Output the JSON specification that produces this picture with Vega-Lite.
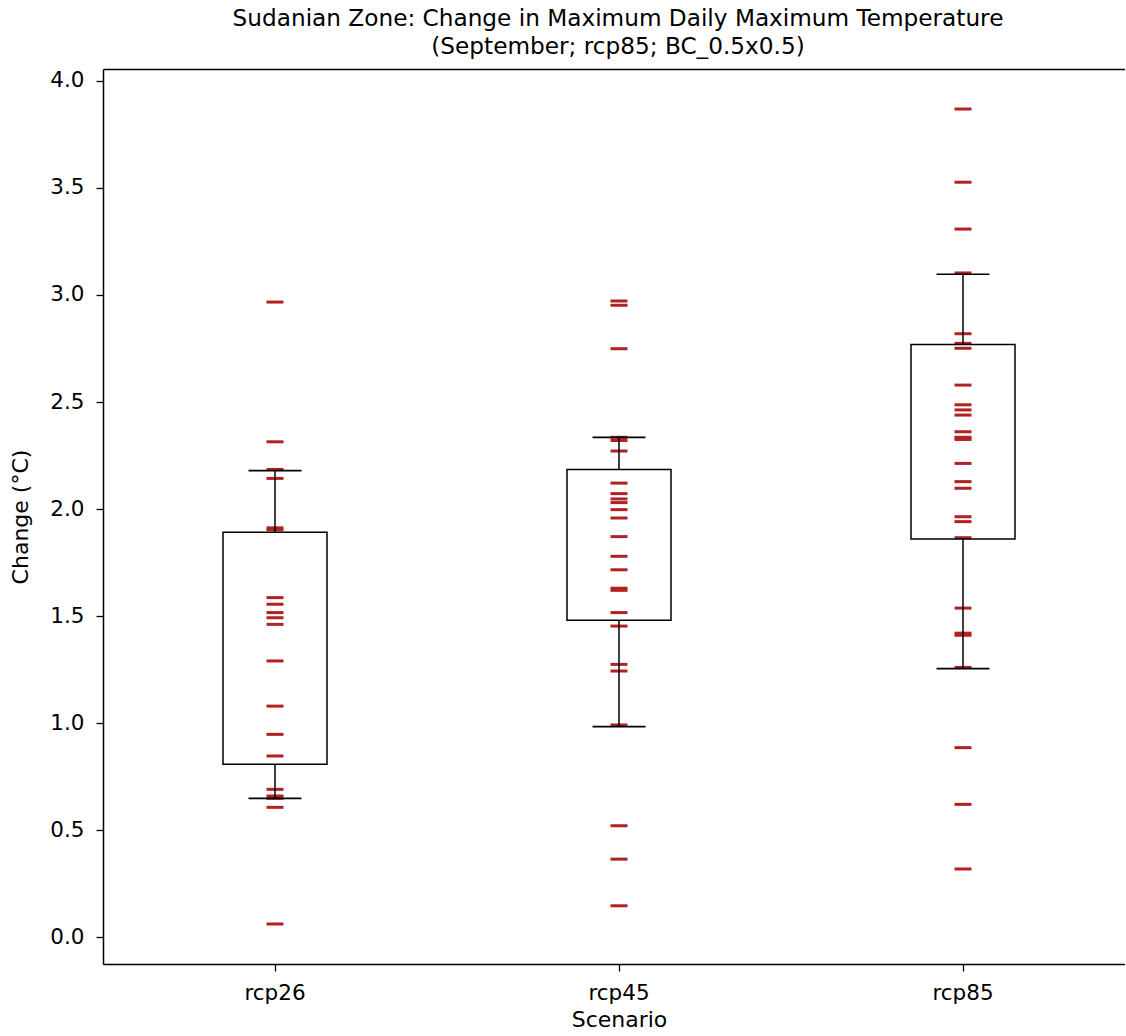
{
  "$schema": "https://vega.github.io/schema/vega-lite/v6.json",
  "width": 1022,
  "height": 895,
  "autosize": {"type": "none"},
  "padding": {"left": 103, "top": 69, "right": 0, "bottom": 72},
  "config": {
    "font": "DejaVu Sans",
    "view": {"stroke": null},
    "axis": {"labelFont": "DejaVu Sans", "titleFont": "DejaVu Sans", "labelColor": "black", "titleColor": "black", "tickColor": "black", "domain": true, "domainColor": "black", "domainWidth": 1.5, "grid": false, "titleFontWeight": "normal", "labelFontSize": 21.5, "titleFontSize": 22, "tickSize": 7, "tickWidth": 1.3}
  },
  "title": {
    "text": ["Sudanian Zone: Change in Maximum Daily Maximum Temperature", "(September; rcp85; BC_0.5x0.5)"],
    "fontSize": 23.2,
    "fontWeight": "normal",
    "font": "DejaVu Sans",
    "color": "black",
    "anchor": "middle",
    "frame": "group",
    "dx": 4,
    "offset": 10,
    "lineHeight": 28
  },
  "datasets": {
    "points": [
      {"scenario": "rcp26", "change": 2.967}, {"scenario": "rcp26", "change": 2.314}, {"scenario": "rcp26", "change": 2.185}, {"scenario": "rcp26", "change": 2.143}, {"scenario": "rcp26", "change": 1.912}, {"scenario": "rcp26", "change": 1.903}, {"scenario": "rcp26", "change": 1.586}, {"scenario": "rcp26", "change": 1.555}, {"scenario": "rcp26", "change": 1.516}, {"scenario": "rcp26", "change": 1.492}, {"scenario": "rcp26", "change": 1.461}, {"scenario": "rcp26", "change": 1.29}, {"scenario": "rcp26", "change": 1.079}, {"scenario": "rcp26", "change": 0.947}, {"scenario": "rcp26", "change": 0.846}, {"scenario": "rcp26", "change": 0.69}, {"scenario": "rcp26", "change": 0.659}, {"scenario": "rcp26", "change": 0.648}, {"scenario": "rcp26", "change": 0.606}, {"scenario": "rcp26", "change": 0.061},
      {"scenario": "rcp45", "change": 2.972}, {"scenario": "rcp45", "change": 2.952}, {"scenario": "rcp45", "change": 2.749}, {"scenario": "rcp45", "change": 2.335}, {"scenario": "rcp45", "change": 2.32}, {"scenario": "rcp45", "change": 2.271}, {"scenario": "rcp45", "change": 2.121}, {"scenario": "rcp45", "change": 2.072}, {"scenario": "rcp45", "change": 2.047}, {"scenario": "rcp45", "change": 2.03}, {"scenario": "rcp45", "change": 1.997}, {"scenario": "rcp45", "change": 1.958}, {"scenario": "rcp45", "change": 1.871}, {"scenario": "rcp45", "change": 1.779}, {"scenario": "rcp45", "change": 1.716}, {"scenario": "rcp45", "change": 1.63}, {"scenario": "rcp45", "change": 1.62}, {"scenario": "rcp45", "change": 1.516}, {"scenario": "rcp45", "change": 1.453}, {"scenario": "rcp45", "change": 1.274}, {"scenario": "rcp45", "change": 1.243}, {"scenario": "rcp45", "change": 0.991}, {"scenario": "rcp45", "change": 0.52}, {"scenario": "rcp45", "change": 0.364}, {"scenario": "rcp45", "change": 0.146},
      {"scenario": "rcp85", "change": 3.869}, {"scenario": "rcp85", "change": 3.527}, {"scenario": "rcp85", "change": 3.308}, {"scenario": "rcp85", "change": 3.103}, {"scenario": "rcp85", "change": 2.819}, {"scenario": "rcp85", "change": 2.774}, {"scenario": "rcp85", "change": 2.751}, {"scenario": "rcp85", "change": 2.579}, {"scenario": "rcp85", "change": 2.487}, {"scenario": "rcp85", "change": 2.463}, {"scenario": "rcp85", "change": 2.439}, {"scenario": "rcp85", "change": 2.361}, {"scenario": "rcp85", "change": 2.335}, {"scenario": "rcp85", "change": 2.325}, {"scenario": "rcp85", "change": 2.213}, {"scenario": "rcp85", "change": 2.128}, {"scenario": "rcp85", "change": 2.097}, {"scenario": "rcp85", "change": 1.964}, {"scenario": "rcp85", "change": 1.941}, {"scenario": "rcp85", "change": 1.866}, {"scenario": "rcp85", "change": 1.537}, {"scenario": "rcp85", "change": 1.42}, {"scenario": "rcp85", "change": 1.41}, {"scenario": "rcp85", "change": 1.26}, {"scenario": "rcp85", "change": 0.885}, {"scenario": "rcp85", "change": 0.62}, {"scenario": "rcp85", "change": 0.318}
    ],
    "stats": [
      {"scenario": "rcp26", "q1": 0.807, "q3": 1.891, "lo": 0.648, "hi": 2.179},
      {"scenario": "rcp45", "q1": 1.48, "q3": 2.185, "lo": 0.983, "hi": 2.335},
      {"scenario": "rcp85", "q1": 1.86, "q3": 2.769, "lo": 1.254, "hi": 3.097}
    ]
  },
  "resolve": {"axis": {"x": "independent"}},
  "layer": [
    {
      "data": {"name": "points"},
      "mark": {"type": "tick", "color": "#b22222", "opacity": 1, "size": 17, "thickness": 3, "orient": "horizontal"},
      "encoding": {
        "x": {
          "field": "scenario", "type": "nominal",
          "scale": {"type": "band", "domain": ["rcp26", "rcp45", "rcp85"], "range": [0, 1032], "paddingInner": 0, "paddingOuter": 0},
          "axis": {"title": "Scenario", "orient": "bottom", "labelAngle": 0, "labelPadding": 11, "titlePadding": 6, "titleX": 516}
        },
        "y": {
          "field": "change", "type": "quantitative",
          "scale": {"domain": [-0.126, 4.056], "nice": false, "zero": false},
          "axis": {"title": "Change (°C)", "values": [0, 0.5, 1, 1.5, 2, 2.5, 3, 3.5, 4], "format": ".1f", "labelPadding": 12, "titlePadding": 17}
        }
      }
    },
    {
      "data": {"name": "stats"},
      "mark": {"type": "bar", "size": 104, "fill": null, "fillOpacity": 0, "stroke": "black", "strokeWidth": 1.5},
      "encoding": {
        "x": {"field": "scenario", "type": "nominal", "axis": {"orient": "top", "labels": false, "ticks": false, "title": null, "domain": true}},
        "y": {"field": "q1", "type": "quantitative"},
        "y2": {"field": "q3"}
      }
    },
    {
      "data": {"name": "stats"},
      "mark": {"type": "rule", "color": "black", "strokeWidth": 1.5},
      "encoding": {
        "x": {"field": "scenario", "type": "nominal", "axis": null},
        "y": {"field": "q3", "type": "quantitative"},
        "y2": {"field": "hi"}
      }
    },
    {
      "data": {"name": "stats"},
      "mark": {"type": "rule", "color": "black", "strokeWidth": 1.5},
      "encoding": {
        "x": {"field": "scenario", "type": "nominal", "axis": null},
        "y": {"field": "lo", "type": "quantitative"},
        "y2": {"field": "q1"}
      }
    },
    {
      "data": {"name": "stats"},
      "mark": {"type": "tick", "color": "black", "opacity": 1, "size": 53, "thickness": 1.7, "orient": "horizontal"},
      "encoding": {
        "x": {"field": "scenario", "type": "nominal", "axis": null},
        "y": {"field": "hi", "type": "quantitative"}
      }
    },
    {
      "data": {"name": "stats"},
      "mark": {"type": "tick", "color": "black", "opacity": 1, "size": 53, "thickness": 1.7, "orient": "horizontal"},
      "encoding": {
        "x": {"field": "scenario", "type": "nominal", "axis": null},
        "y": {"field": "lo", "type": "quantitative"}
      }
    }
  ]
}
